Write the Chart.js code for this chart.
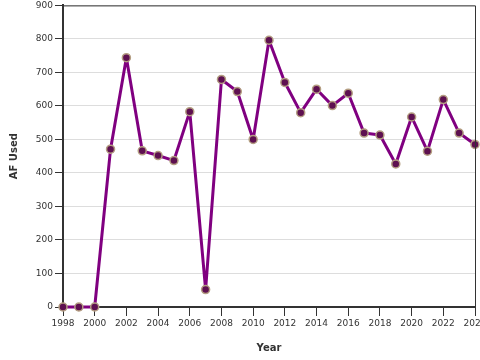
<!DOCTYPE html>
<html>
<head>
<meta charset="utf-8">
<script src="https://cdn.jsdelivr.net/npm/chart.js@4"></script>
<style>
  html, body { margin: 0; padding: 0; background: #fff; overflow: hidden; }
  #wrap { width: 480px; height: 360px; overflow: hidden; }
  #box { width: 500px; height: 362px; margin-top: -2px; }
</style>
</head>
<body>
<div id="wrap"><div id="box"><canvas id="myChart"></canvas></div></div>
<script>
var years = [1998, 1999, 2000, 2001, 2002, 2003, 2004, 2005, 2006, 2007, 2008, 2009, 2010,
             2011, 2012, 2013, 2014, 2015, 2016, 2017, 2018, 2019, 2020, 2021, 2022, 2023, 2024];
var afUsed = [0, 0, 0, 471, 744, 466, 452, 437, 583, 52, 679, 643, 500,
              796, 670, 580, 650, 601, 638, 519, 513, 427, 567, 465, 619, 519, 485];
var yTicks = [0, 100, 200, 300, 400, 500, 600, 700, 800, 900];
var xRange = [1998, 2024];

var points = years.map(function (y, i) { return { x: y, y: afUsed[i] }; });

// top and right edges of the plot frame
var frame = {
  id: 'frame',
  afterDraw: function (chart) {
    var a = chart.chartArea, c = chart.ctx;
    c.save();
    c.strokeStyle = '#333';
    c.lineWidth = 1;
    c.beginPath();
    c.moveTo(a.left, a.top + 0.5);
    c.lineTo(a.right + 0.5, a.top + 0.5);
    c.lineTo(a.right + 0.5, a.bottom);
    c.stroke();
    c.restore();
  }
};

Chart.defaults.font.family = '"DejaVu Sans", Verdana, sans-serif';
Chart.defaults.color = '#333';

var ctx = document.getElementById('myChart').getContext('2d');
var myChart = new Chart(ctx, {
  type: 'line',
  data: {
    datasets: [{
      label: 'AF Used',
      data: points,
      borderColor: '#800080',
      borderWidth: 3,
      borderJoinStyle: 'round',
      pointRadius: 4,
      pointBackgroundColor: '#5e1050',
      pointBorderColor: '#b49e82',
      pointBorderWidth: 1.5,
      tension: 0,
      clip: false
    }]
  },
  options: {
    responsive: true,
    maintainAspectRatio: false,
    animation: false,
    layout: { padding: { top: 1, right: 25, bottom: 0, left: 0 } },
    plugins: { legend: { display: false }, tooltip: { enabled: false } },
    scales: {
      x: {
        type: 'linear',
        min: xRange[0],
        max: xRange[1],
        afterFit: function (s) { s.height = 53; },
        ticks: {
          stepSize: 2,
          padding: 2,
          maxRotation: 0,
          font: { size: 9 },
          callback: function (v) { return String(v); }
        },
        grid: { drawOnChartArea: false, tickLength: 9, tickColor: '#333', tickWidth: 1 },
        border: { color: '#333', width: 2 },
        title: { display: true, text: 'Year', font: { size: 10, weight: 'bold' }, padding: { top: 0, bottom: 6 } }
      },
      y: {
        min: yTicks[0],
        max: yTicks[yTicks.length - 1],
        afterFit: function (s) { s.width = 63; },
        afterBuildTicks: function (s) { s.ticks = yTicks.map(function (v) { return { value: v }; }); },
        ticks: { padding: 2, font: { size: 9 } },
        grid: { color: '#dddddd', tickLength: 8, tickColor: '#333', tickWidth: 1 },
        border: { color: '#333', width: 2 },
        title: { display: true, text: 'AF Used', font: { size: 10, weight: 'bold' }, padding: { top: 8, bottom: 0 } }
      }
    }
  },
  plugins: [frame]
});
</script>
</body>
</html>
